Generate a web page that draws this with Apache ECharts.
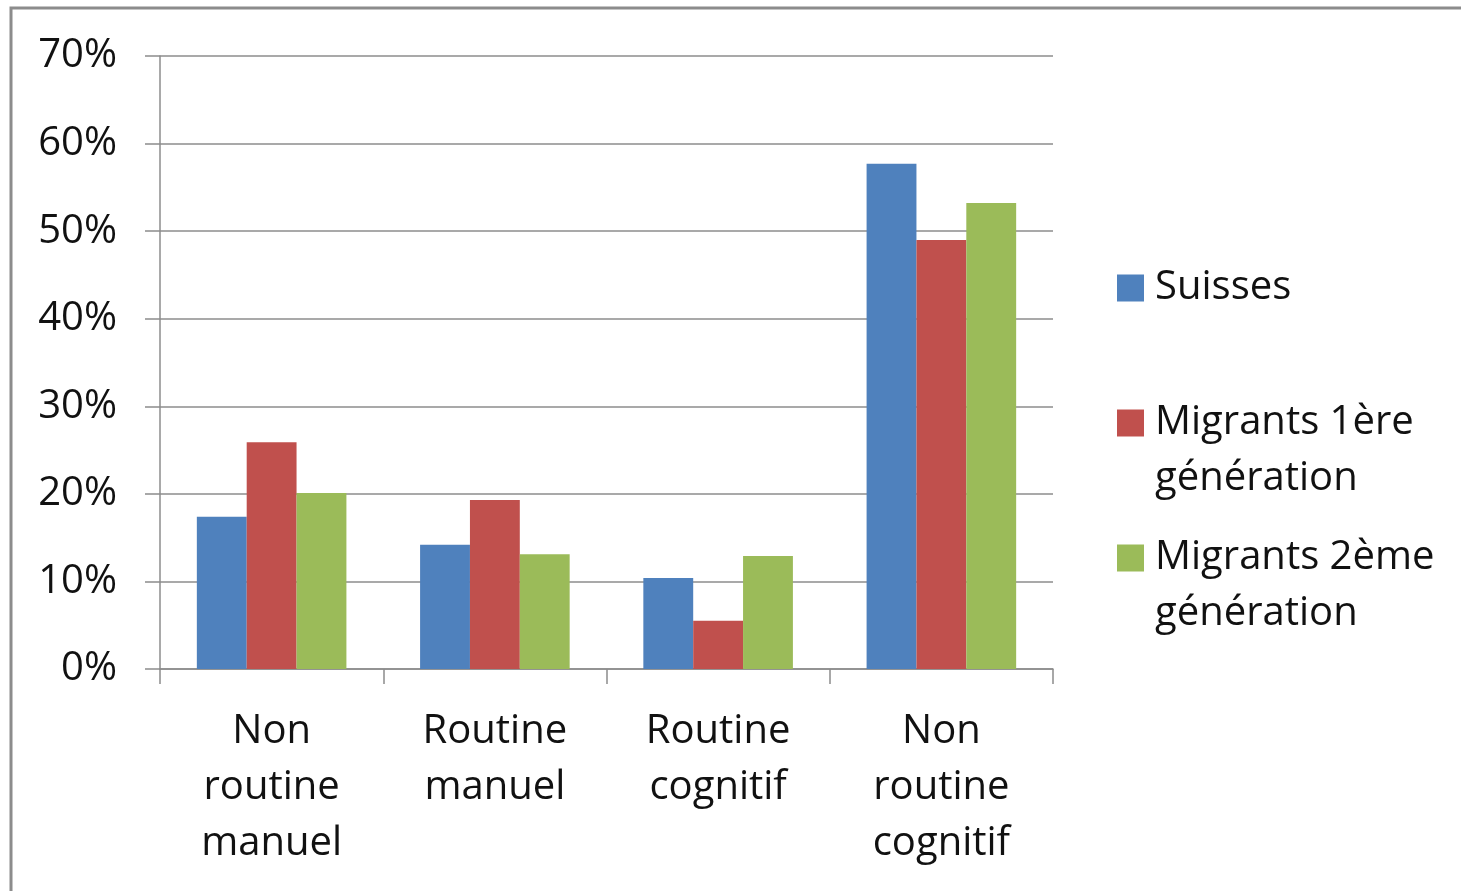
<!DOCTYPE html>
<html>
<head>
<meta charset="utf-8">
<script src="https://cdn.jsdelivr.net/npm/echarts@6/dist/echarts.min.js"></script>
<style>
html,body{margin:0;padding:0;background:#fff;}
#chart{width:1461px;height:891px;}
</style>
</head>
<body>
<div id="chart"></div>
<script>
const categories = ['Non\nroutine\nmanuel', 'Routine\nmanuel', 'Routine\ncognitif', 'Non\nroutine\ncognitif'];
const seriesNames = ['Suisses', 'Migrants 1ère génération', 'Migrants 2ème génération'];
const suisses = [17.4, 14.2, 10.4, 57.7];
const migrants1 = [25.9, 19.3, 5.5, 49.0];
const migrants2 = [20.1, 13.1, 12.9, 53.2];
const colors = ['#4F81BD', '#C0504D', '#9BBB59'];
const yTicks = [0, 10, 20, 30, 40, 50, 60, 70];

const font = '"Open Sans", "DejaVu Sans", sans-serif';
const chart = echarts.init(document.getElementById('chart'));

function legendFor(idx, top, wrapped) {
  return {
    orient: 'vertical',
    left: 1117,
    top: top,
    padding: 0,
    data: [seriesNames[idx]],
    icon: 'rect',
    itemWidth: 27,
    itemHeight: 27,
    selectedMode: false,
    formatter: function (name) {
      return wrapped ? '\u00a0\n' + name.replace(' génération', '\ngénération') : name;
    },
    textStyle: {
      fontFamily: font,
      fontSize: 40,
      color: '#111',
      lineHeight: 56,
      padding: [0, 0, 0, 6]
    }
  };
}

chart.setOption({
  animation: false,
  color: colors,
  grid: { left: 160, right: 408, top: 56, bottom: 222, containLabel: false },
  graphic: [{
    type: 'rect',
    shape: { x: 11, y: 8, width: 1600, height: 1000 },
    style: { fill: 'none', stroke: '#8c8c8c', lineWidth: 3 },
    silent: true
  }],
  legend: [
    legendFor(0, 260, false),
    legendFor(1, 339, true),
    legendFor(2, 474, true)
  ],
  xAxis: {
    type: 'category',
    data: categories,
    axisLine: { lineStyle: { color: '#8c8c8c', width: 1.5 } },
    axisTick: { show: true, length: 15, lineStyle: { color: '#8c8c8c', width: 1.5 } },
    axisLabel: {
      fontFamily: font, fontSize: 40, color: '#111', lineHeight: 56,
      margin: 35, interval: 0
    }
  },
  yAxis: {
    type: 'value',
    min: 0, max: 70, interval: 10,
    axisLine: { show: true, lineStyle: { color: '#8c8c8c', width: 1.5 } },
    axisTick: { show: true, length: 15, lineStyle: { color: '#8c8c8c', width: 1.5 } },
    splitLine: { show: true, lineStyle: { color: '#8c8c8c', width: 1.5 } },
    axisLabel: {
      fontFamily: font, fontSize: 40, color: '#111', margin: 43,
      formatter: function (v) { return yTicks.indexOf(v) >= 0 ? v + '%' : ''; }
    }
  },
  series: [
    { name: seriesNames[0], type: 'bar', data: suisses, barGap: '0%', barCategoryGap: '33%' },
    { name: seriesNames[1], type: 'bar', data: migrants1, barGap: '0%', barCategoryGap: '33%' },
    { name: seriesNames[2], type: 'bar', data: migrants2, barGap: '0%', barCategoryGap: '33%' }
  ]
});
</script>
</body>
</html>
